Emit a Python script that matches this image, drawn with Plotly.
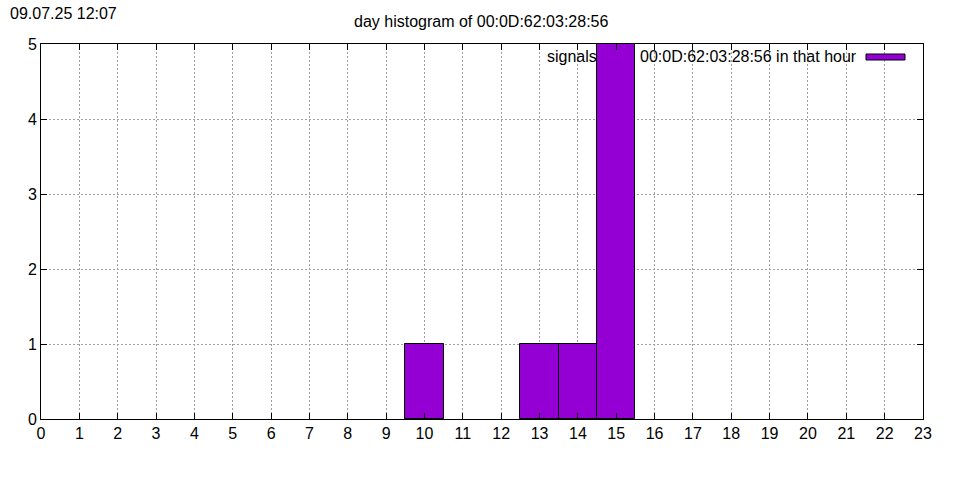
import plotly.graph_objects as go

hours = list(range(24))
counts = [0, 0, 0, 0, 0, 0, 0, 0, 0, 0, 1, 0, 0, 1, 1, 5, 0, 0, 0, 0, 0, 0, 0, 0]
tick_labels = [str(h) for h in range(24)]
title_text = "day histogram of 00:0D:62:03:28:56"
stamp_text = "09.07.25 12:07"
legend_left = "signals"
legend_right = "00:0D:62:03:28:56 in that hour"

FONT = "Liberation Sans, Arial, sans-serif"
BAR = "#9400D3"

fig = go.Figure()
fig.add_trace(go.Bar(
    x=hours, y=counts, width=1,
    marker=dict(color=BAR, line=dict(color="black",
                                     width=[1 if c > 0 else 0 for c in counts])),
    showlegend=False,
))

fig.update_layout(
    width=960, height=480,
    margin=dict(l=41, r=37, t=44, b=61),
    plot_bgcolor="white", paper_bgcolor="white",
    font=dict(family=FONT, size=16, color="black"),
    bargap=0,
    showlegend=False,
)
fig.update_xaxes(
    range=[0, 23], tickmode="array", tickvals=hours, ticktext=tick_labels,
    showline=True, linecolor="black", linewidth=1, mirror="ticks",
    ticks="inside", ticklen=6, tickcolor="black",
    showgrid=True, gridcolor="#a0a0a0", griddash="2px,2px", gridwidth=1,
    zeroline=False, tickfont=dict(size=16),
)
fig.update_yaxes(
    range=[0, 5], dtick=1,
    showline=True, linecolor="black", linewidth=1, mirror="ticks",
    ticks="inside", ticklen=6, tickcolor="black",
    showgrid=True, gridcolor="#a0a0a0", griddash="2px,2px", gridwidth=1,
    zeroline=False, tickfont=dict(size=16),
)

fig.add_annotation(text=stamp_text, xref="paper", yref="paper",
                   x=-33/882, y=1 + 31/375, xanchor="left", yanchor="middle",
                   showarrow=False, font=dict(size=16))
fig.add_annotation(text=title_text, xref="paper", yref="paper",
                   x=(481-41)/882, y=1 + 23/375, xanchor="center", yanchor="middle",
                   showarrow=False, font=dict(size=16))
fig.add_annotation(text=legend_left, xref="paper", yref="paper",
                   x=(599-41)/882, y=1 - 12/375, xanchor="right", yanchor="middle",
                   showarrow=False, font=dict(size=16))
fig.add_annotation(text=legend_right, xref="paper", yref="paper",
                   x=(859-41)/882, y=1 - 12/375, xanchor="right", yanchor="middle",
                   showarrow=False, font=dict(size=16))
fig.add_shape(type="rect", xref="paper", yref="paper",
              x0=(866-41)/882, x1=(905-41)/882,
              y0=1 - 16/375, y1=1 - 10/375,
              fillcolor=BAR, line=dict(color="black", width=1))

fig.write_html("out.html", config={"displayModeBar": False},
               post_script="document.body.style.margin='0px';document.body.style.overflow='hidden';")
